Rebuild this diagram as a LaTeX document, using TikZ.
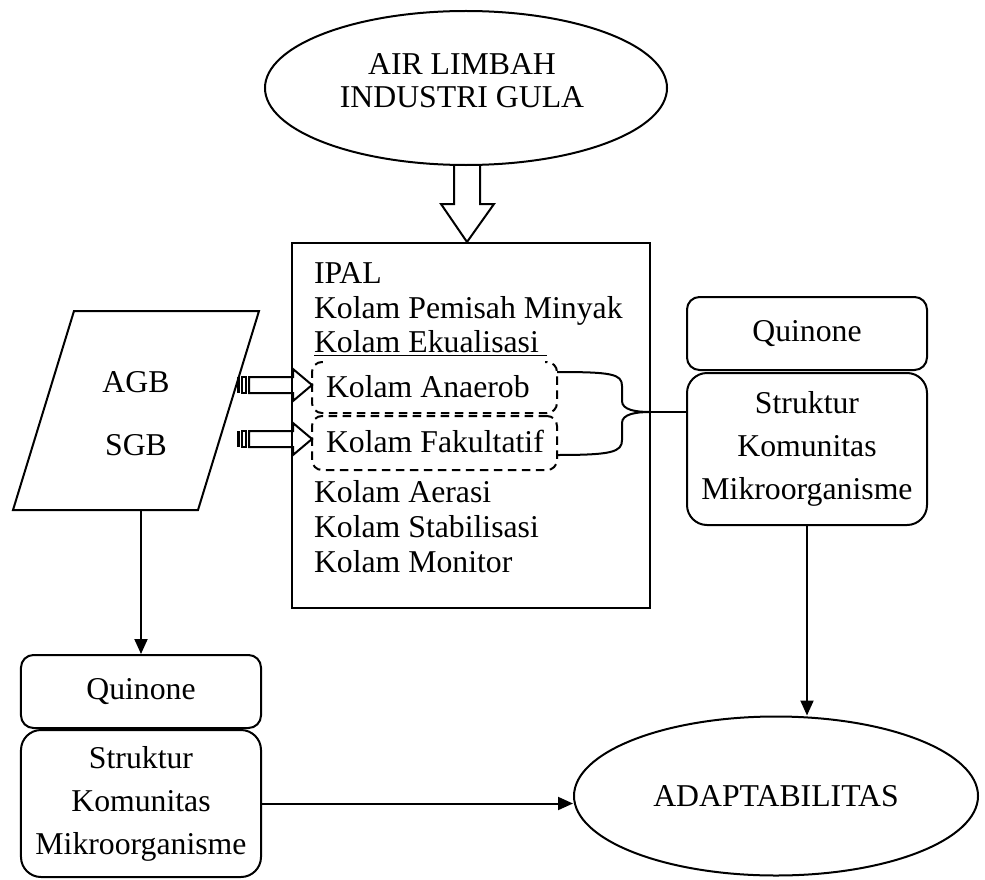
\documentclass[tikz,border=0pt]{standalone}
\usepackage{fontspec}
\setmainfont{Liberation Serif}
\usetikzlibrary{arrows.meta,shapes.geometric,positioning}

\begin{document}
\begin{tikzpicture}[x=0.4pt,y=-0.4pt,>={Triangle[length=6pt,width=5.2pt]},line width=0.8pt,
        font=\fontsize{12.7}{14}\selectfont]
    \useasboundingbox (0,0) rectangle (985,879);
    \tikzset{oval/.style={draw,ellipse,inner sep=0pt},
        roundbox/.style={draw,rounded corners=5pt,minimum width=96pt,align=center,inner sep=0pt},
        dashbox/.style={draw,dash pattern=on 3.4pt off 2.2pt,rounded corners=4pt,minimum width=98pt,
            inner sep=0pt},
        linetext/.style={anchor=base west,inner sep=0pt}}
    % sumber
    \node[oval,minimum width=160.8pt,minimum height=61.6pt] (limbah) at (466,88) {};
    \node[align=center,font=\fontsize{12.7}{13.2}\selectfont] (limbahtxt) at (462,81) {AIR LIMBAH\\INDUSTRI GULA};
    \draw (454,166) -- (454,204) -- (441,204) -- (467,242) -- (494,204) -- (480,204) -- (480,166);
    % IPAL
    \node[draw,minimum width=143.2pt,minimum height=146pt,inner sep=0pt] (ipal) at (471,425.5) {};
    \node[dashbox,minimum height=20.4pt] (anaerob) at (434.5,387.5) {};
    \node[dashbox,minimum height=21.6pt] (fakultatif) at (434.5,443) {};
    \fill[white] (323,355) rectangle (545,366);
    \node[linetext] (ipaltxt) at (313,283) {IPAL};
    \node[linetext] (minyak) at (313,318) {Kolam Pemisah Minyak};
    \node[linetext] (ekual) at (313,352) {\underline{Kolam Ekualisasi\ }};
    \node[linetext] (anaerobtxt) at (325,397) {Kolam Anaerob};
    \node[linetext] (fakultatiftxt) at (325,452) {Kolam Fakultatif};
    \node[linetext] (aerasi) at (313,502) {Kolam Aerasi};
    \node[linetext] (stabil) at (313,537) {Kolam Stabilisasi};
    \node[linetext] (monitor) at (313,572) {Kolam Monitor};
    % AGB / SGB
    \draw (74,311) -- (259,311) -- (198,510) -- (13,510) -- cycle;
    \node (agb) at (136,382) {AGB};
    \node (sgb) at (136,445) {SGB};
    \coordinate (para-b) at (141,510);
    \foreach \y in {385,439} {
        \fill (237,\y-8) rectangle (240,\y+8);
        \draw[line width=0.5pt] (242,\y-8) rectangle (246,\y+8);
        \draw (249,\y-8) -- (293,\y-8) -- (293,\y-16) -- (312,\y) -- (293,\y+16) -- (293,\y+8) -- (249,\y+8) -- cycle;
    }
    % kanan
    \node[roundbox,minimum height=29.2pt] (quinr) at (807,333.5) {Quinone};
    \node[roundbox,rounded corners=8pt,minimum height=60.8pt,font=\fontsize{12.7}{17.2}\selectfont] (strukr) at (807,449)
        {Struktur\\Komunitas\\Mikroorganisme};
    \coordinate (brace) at (650,412);
    \draw (557,372) .. controls (612,372) and (622,374) .. (622,386) -- (622,401)
        .. controls (622,410) and (636,412) .. (brace);
    \draw (557,455) .. controls (612,455) and (622,452) .. (622,440) -- (622,423)
        .. controls (622,414) and (636,412) .. (brace);
    \draw (brace) -- (brace -| strukr.west);
    % kiri
    \node[roundbox,minimum height=29.2pt] (quinl) at (141,691.5) {Quinone};
    \node[roundbox,rounded corners=8pt,minimum height=58.8pt,font=\fontsize{12.7}{17.2}\selectfont] (strukl) at (141,803.5)
        {Struktur\\Komunitas\\Mikroorganisme};
    % hasil
    \node[oval,minimum width=161.6pt,minimum height=63.6pt] (adapt) at (776,796) {ADAPTABILITAS};
    \draw[->] (para-b) -- (quinl);
    \draw[->] (strukl) -- (strukl -| adapt.west);
    \draw[->] (strukr) -- (strukr |- adapt.north);
\end{tikzpicture}
\end{document}
